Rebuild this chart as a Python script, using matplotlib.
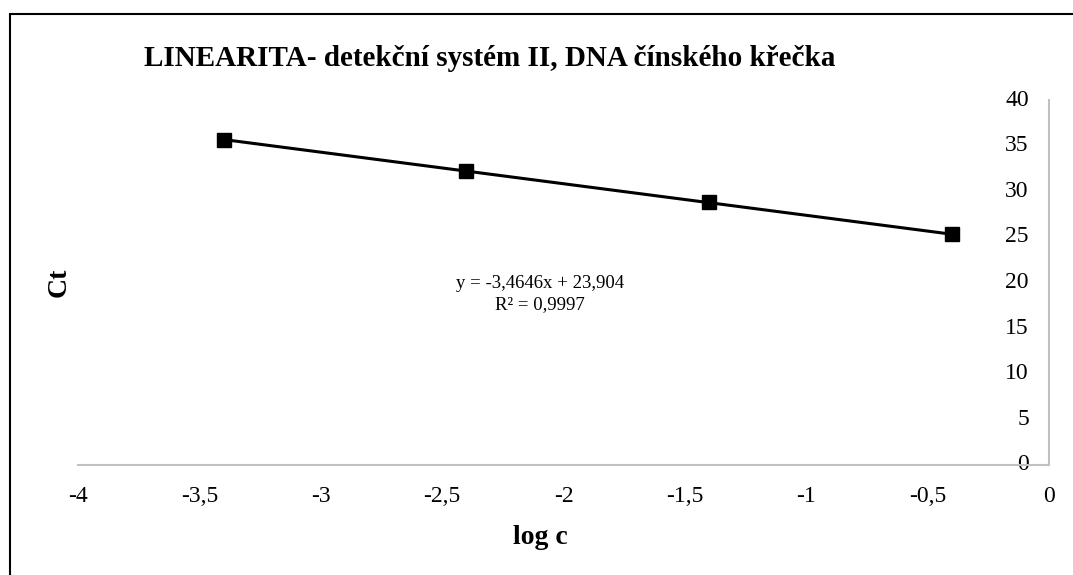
import matplotlib
matplotlib.use("Agg")
import matplotlib.pyplot as plt
from matplotlib.patches import Rectangle
import numpy as np

plt.rcParams['font.family'] = ['Liberation Serif', 'DejaVu Serif']

log_c = [-3.4, -2.4, -1.4, -0.4]
ct = [35.66, 32.20, 28.78, 25.27]
x_ticks = [-4, -3.5, -3, -2.5, -2, -1.5, -1, -0.5, 0]
y_ticks = [0, 5, 10, 15, 20, 25, 30, 35, 40]
title = "LINEARITA- detekční systém II, DNA čínského křečka"
eq_text = "y = -3,4646x + 23,904\nR² = 0,9997"

W, H = 1073, 575
fig = plt.figure(figsize=(W / 100, H / 100), dpi=100)
ax = fig.add_axes([78 / W, 1 - 465 / H, (1049 - 78) / W, (465 - 100) / H])

# outer chart frame
fig.patches.append(Rectangle((10 / W, -0.1), 1.2, 1 - 14 / H + 0.1,
                             transform=fig.transFigure, fill=False,
                             edgecolor='black', linewidth=1.5))

# trend line
slope, intercept = np.polyfit(log_c, ct, 1)
xs = np.array([min(log_c), max(log_c)])
ax.plot(xs, slope * xs + intercept, color='black', linewidth=2.2, zorder=3)
ax.plot(log_c, ct, linestyle='none', marker='s', markersize=9.5,
        color='black', zorder=4)

ax.set_xlim(-4, 0)
ax.set_ylim(0, 40)
ax.set_xticks(x_ticks)
ax.set_xticklabels([("%g" % v).replace('.', ',') for v in x_ticks])
ax.set_yticks(y_ticks)
ax.set_yticklabels([str(v) for v in y_ticks])

for s in ['top', 'left']:
    ax.spines[s].set_visible(False)
for s in ['bottom', 'right']:
    ax.spines[s].set_color('#c0c0c0')
    ax.spines[s].set_linewidth(1.5)

ax.tick_params(axis='x', length=0, pad=15, labelsize=17)
ax.tick_params(axis='y', length=0, left=False, labelleft=False,
               right=False, labelright=True, pad=-14.5, labelsize=17)
for lbl in ax.get_yticklabels():
    lbl.set_horizontalalignment('right')
    lbl.set_verticalalignment('center')

ax.set_xlabel("log c", fontsize=20, fontweight='bold')
ax.xaxis.set_label_coords((540 - 78) / 971, -0.165)
ax.set_ylabel("Ct", fontsize=20, fontweight='bold')
ax.yaxis.set_label_coords((72 - 78) / 971, 0.5)

ax.text((540 - 78) / 971, (465 - 294) / 365, eq_text, transform=ax.transAxes,
        ha='center', va='center', fontsize=13.5, linespacing=1.3)

fig.text(490 / W, 1 - 58 / H, title, ha='center', va='center',
         fontsize=21, fontweight='bold')

fig.savefig("out.png", dpi=100)
